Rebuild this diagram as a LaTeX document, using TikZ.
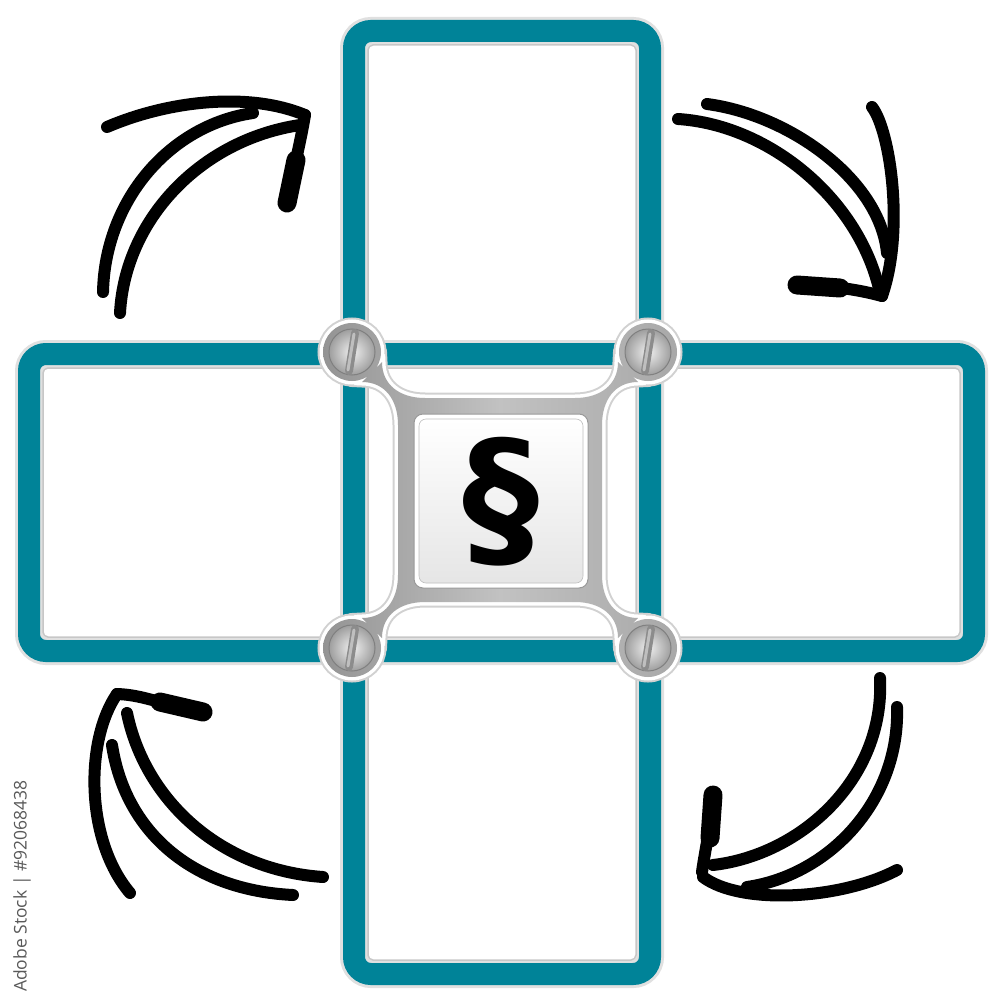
\documentclass[tikz,border=0pt]{standalone}
\usepackage{fontspec}
\newfontfamily\symfont{DejaVu Sans}
\newfontfamily\markfont{Open Sans}
\definecolor{frameteal}{RGB}{0,131,152}
\tikzset{
  penline/.style={line width=12pt, line cap=round, line join=round},
  penhead/.style={line width=19pt, line cap=round},
  frameshadow/.style={line width=28pt, draw=black!12, rounded corners=17pt},
  framebar/.style={line width=22pt, draw=frameteal, rounded corners=17pt},
  frameinner/.style={line width=1.5pt, draw=black!22, rounded corners=5pt},
  plate shape/.style={insert path={
    (425,398) -- (575,398)
    .. controls (600,398) and (618,385) .. (618,362) -- (638,382)
    .. controls (615,382) and (602,400) .. (602,425) -- (602,575)
    .. controls (602,600) and (615,618) .. (638,618) -- (618,638)
    .. controls (618,615) and (600,602) .. (575,602) -- (425,602)
    .. controls (400,602) and (382,615) .. (382,638) -- (362,618)
    .. controls (385,618) and (398,600) .. (398,575) -- (398,425)
    .. controls (398,400) and (385,382) .. (362,382) -- (382,362)
    .. controls (382,385) and (400,398) .. (425,398) -- cycle
    (352,352) circle (29) (648,352) circle (29)
    (352,648) circle (29) (648,648) circle (29)}}
}
\begin{document}
\begin{tikzpicture}[x=1pt,y=-1pt]
	\useasboundingbox (0,0) rectangle (1000,1000);

	\draw[frameshadow] (354,31) rectangle (650,974);
	\draw[frameshadow] (29,354) rectangle (974,651);
	\draw[framebar] (354,31) rectangle (650,974);
	\draw[framebar] (29,354) rectangle (974,651);
	\draw[frameinner] (368,45) rectangle (636,960);
	\draw[frameinner] (43,368) rectangle (960,637);

	\path[plate shape, draw=black!18, line width=11pt];
	\path[plate shape, draw=white, line width=7pt];
	\shade[plate shape, left color=black!42, right color=black!34, middle color=black!24];

	\foreach \sx/\sy in {352/352, 648/352, 352/648, 648/648} {
		\shade[inner color=black!6, outer color=black!38] (\sx,\sy) circle (23);
		\draw[black!50, line width=1pt] (\sx,\sy) circle (23);
		\draw[black!45, line width=8pt, line cap=round] (\sx+3,\sy-19) -- (\sx-3,\sy+19);
		\draw[black!25, line width=3pt, line cap=round] (\sx+2,\sy-18) -- (\sx-4,\sy+18);
	}

	\draw[black!40, line width=1pt, fill=white, rounded corners=9pt] (414,414) rectangle (588,588);
	\shade[top color=white, bottom color=black!10, rounded corners=7pt] (419,419) rectangle (583,583);
	\draw[black!25, line width=0.6pt, rounded corners=7pt] (419,419) rectangle (583,583);
	\node[inner sep=0pt, font=\symfont\bfseries\fontsize{154}{154}\selectfont] (para) at (501,502) {§};

	\draw[penline] (107,127) .. controls (170,100) and (250,92) .. (305,115);
	\draw[penline] (305,115) .. controls (300,145) and (292,175) .. (287,205);
	\draw[penhead] (296,160) -- (287,203);
	\draw[penline] (103,292) .. controls (105,200) and (170,125) .. (253,113);
	\draw[penline] (120,313) .. controls (125,220) and (200,140) .. (300,125);

	\draw[penline] (678,119) .. controls (770,125) and (860,200) .. (880,293);
	\draw[penline] (707,104) .. controls (790,115) and (880,180) .. (887,253);
	\draw[penline] (872,107) .. controls (890,130) and (905,230) .. (882,296);
	\draw[penline] (795,285) .. controls (830,285) and (860,290) .. (882,296);
	\draw[penhead] (797,285) -- (840,288);

	\draw[penline] (117,694) .. controls (150,695) and (180,712) .. (205,712);
	\draw[penhead] (160,702) -- (203,712);
	\draw[penline] (117,694) .. controls (85,740) and (85,840) .. (130,893);
	\draw[penline] (127,713) .. controls (145,800) and (220,870) .. (323,877);
	\draw[penline] (112,745) .. controls (125,830) and (190,890) .. (293,895);

	\draw[penline] (713,793) .. controls (712,820) and (705,850) .. (702,872);
	\draw[penhead] (713,795) -- (710,838);
	\draw[penline] (703,877) .. controls (740,905) and (840,900) .. (897,870);
	\draw[penline] (880,678) .. controls (885,780) and (800,855) .. (713,865);
	\draw[penline] (897,707) .. controls (900,800) and (830,875) .. (747,887);

	\node[inner sep=0pt, rotate=90, anchor=west, text=black!65, font=\markfont\fontsize{17.5}{17.5}\selectfont] (stockid) at (22,992) {Adobe Stock | \#92068438};
\end{tikzpicture}
\end{document}
